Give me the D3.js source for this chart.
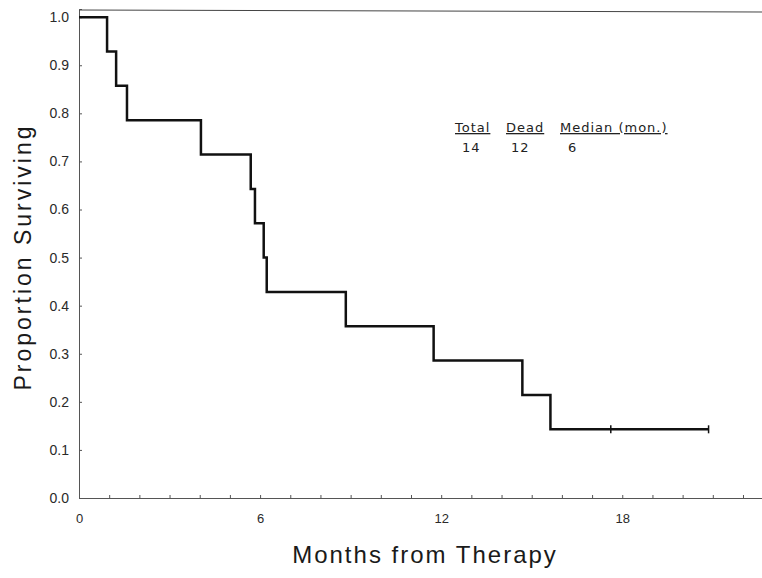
<!DOCTYPE html>
<html lang="en">
    <head>
        <title>Survival curve</title>
        <meta charset="utf-8">
        <script src="https://d3js.org/d3.v7.min.js"></script>
        <style>
            body { margin: 0; background: #fff; }
            svg text { font-family: "Liberation Sans", Arial, sans-serif; }
        </style>
    </head>
    <body>
        <div id="chart"></div>
    </body>
</html>

<script type="text/javascript">

// Death times (months), 14 patients, 12 deaths
var deathTimes = [0.93, 1.23, 1.59, 4.04, 5.69, 5.83, 6.12, 6.22, 8.84, 11.75, 14.69, 15.62];
// Censored patients (still alive)
var censorTimes = [17.62, 20.86];
var totalPatients = 14;

var xTickLabels = [0, 6, 12, 18];
var yTickLabels = [0, 0.1, 0.2, 0.3, 0.4, 0.5, 0.6, 0.7, 0.8, 0.9, 1.0];

var tableHeads = ["Total", "Dead", "Median (mon.)"];
var tableValues = ["14", "12", "6"];

var width = 762;
var height = 578;

// scales
var xScale = d3.scaleLinear()
    .domain([0, 22.63])
    .range([79, 762]);

var yScale = d3.scaleLinear()
    .domain([0, 1.017])
    .range([498, 9]);

var svg = d3.select("#chart").append("svg")
    .attr("width", width)
    .attr("height", height);

// build step points from the death times
var points = [[0, 1]];
var atRisk = totalPatients;
deathTimes.forEach(function(t){
    atRisk = atRisk - 1;
    points.push([t, atRisk / totalPatients]);
});
points.push([censorTimes[censorTimes.length - 1], atRisk / totalPatients]);

// y axis
var yAxis = d3.axisLeft(yScale)
    .tickValues(yTickLabels)
    .tickSize(-3)
    .tickPadding(10)
    .tickFormat(d3.format(".1f"));

var gy = svg.append("g")
    .attr("transform", "translate(79,0)")
    .call(yAxis);
gy.selectAll("text")
    .attr("font-size", 14)
    .attr("fill", "#2a2a2a");

// x axis, minor ticks every month
var xAxisMinor = d3.axisBottom(xScale)
    .tickValues(d3.range(0, 23))
    .tickSize(-3)
    .tickFormat("");

svg.append("g")
    .attr("transform", "translate(0,498)")
    .call(xAxisMinor);

var xAxis = d3.axisBottom(xScale)
    .tickValues(xTickLabels)
    .tickSize(0)
    .tickPadding(16);

var gx = svg.append("g")
    .attr("transform", "translate(0,498)")
    .call(xAxis);
gx.select(".domain").remove();
gx.selectAll("text")
    .attr("font-size", 13)
    .attr("fill", "#2a2a2a");

svg.selectAll(".domain, .tick line")
    .attr("stroke", "#555")
    .attr("stroke-width", 1);

// top frame line
svg.append("line")
    .attr("x1", xScale(0))
    .attr("x2", xScale(22.63))
    .attr("y1", yScale(1.017) + 1)
    .attr("y2", yScale(1.017) + 3)
    .attr("stroke", "#444")
    .attr("stroke-width", 1);

// survival step curve
var line = d3.line()
    .x(function(d){ return xScale(d[0]); })
    .y(function(d){ return yScale(d[1]); })
    .curve(d3.curveStepAfter);

svg.append("path")
    .datum(points)
    .attr("d", line)
    .attr("fill", "none")
    .attr("stroke", "#111")
    .attr("stroke-width", 2.5);

// censor marks
svg.selectAll(".censor")
    .data(censorTimes)
    .enter()
    .append("line")
        .attr("class", "censor")
        .attr("x1", function(d){ return xScale(d); })
        .attr("x2", function(d){ return xScale(d); })
        .attr("y1", yScale(atRisk / totalPatients) - 4)
        .attr("y2", yScale(atRisk / totalPatients) + 4)
        .attr("stroke", "#111")
        .attr("stroke-width", 1.5);

// axis titles
svg.append("text")
    .attr("x", 425)
    .attr("y", 563)
    .attr("text-anchor", "middle")
    .attr("font-size", 24)
    .attr("letter-spacing", 2)
    .attr("fill", "#1a1a1a")
    .text("Months from Therapy");

svg.append("text")
    .attr("transform", "translate(31,257) rotate(-90)")
    .attr("text-anchor", "middle")
    .attr("font-size", 23)
    .attr("letter-spacing", 3)
    .attr("fill", "#1a1a1a")
    .text("Proportion Surviving");

// summary table
var headX = [455, 506, 560];
var valX = [462, 511, 568];

svg.selectAll(".head")
    .data(tableHeads)
    .enter()
    .append("text")
        .attr("class", "head")
        .attr("x", function(d, i){ return headX[i]; })
        .attr("y", 132)
        .attr("font-size", 13)
        .attr("letter-spacing", 1)
        .attr("fill", "#222")
        .style("font-family", "'DejaVu Sans', sans-serif")
        .style("text-decoration", "underline")
        .text(function(d){ return d; });

svg.selectAll(".val")
    .data(tableValues)
    .enter()
    .append("text")
        .attr("class", "val")
        .attr("x", function(d, i){ return valX[i]; })
        .attr("y", 152)
        .attr("font-size", 13)
        .attr("letter-spacing", 1)
        .attr("fill", "#222")
        .style("font-family", "'DejaVu Sans', sans-serif")
        .text(function(d){ return d; });

</script>
